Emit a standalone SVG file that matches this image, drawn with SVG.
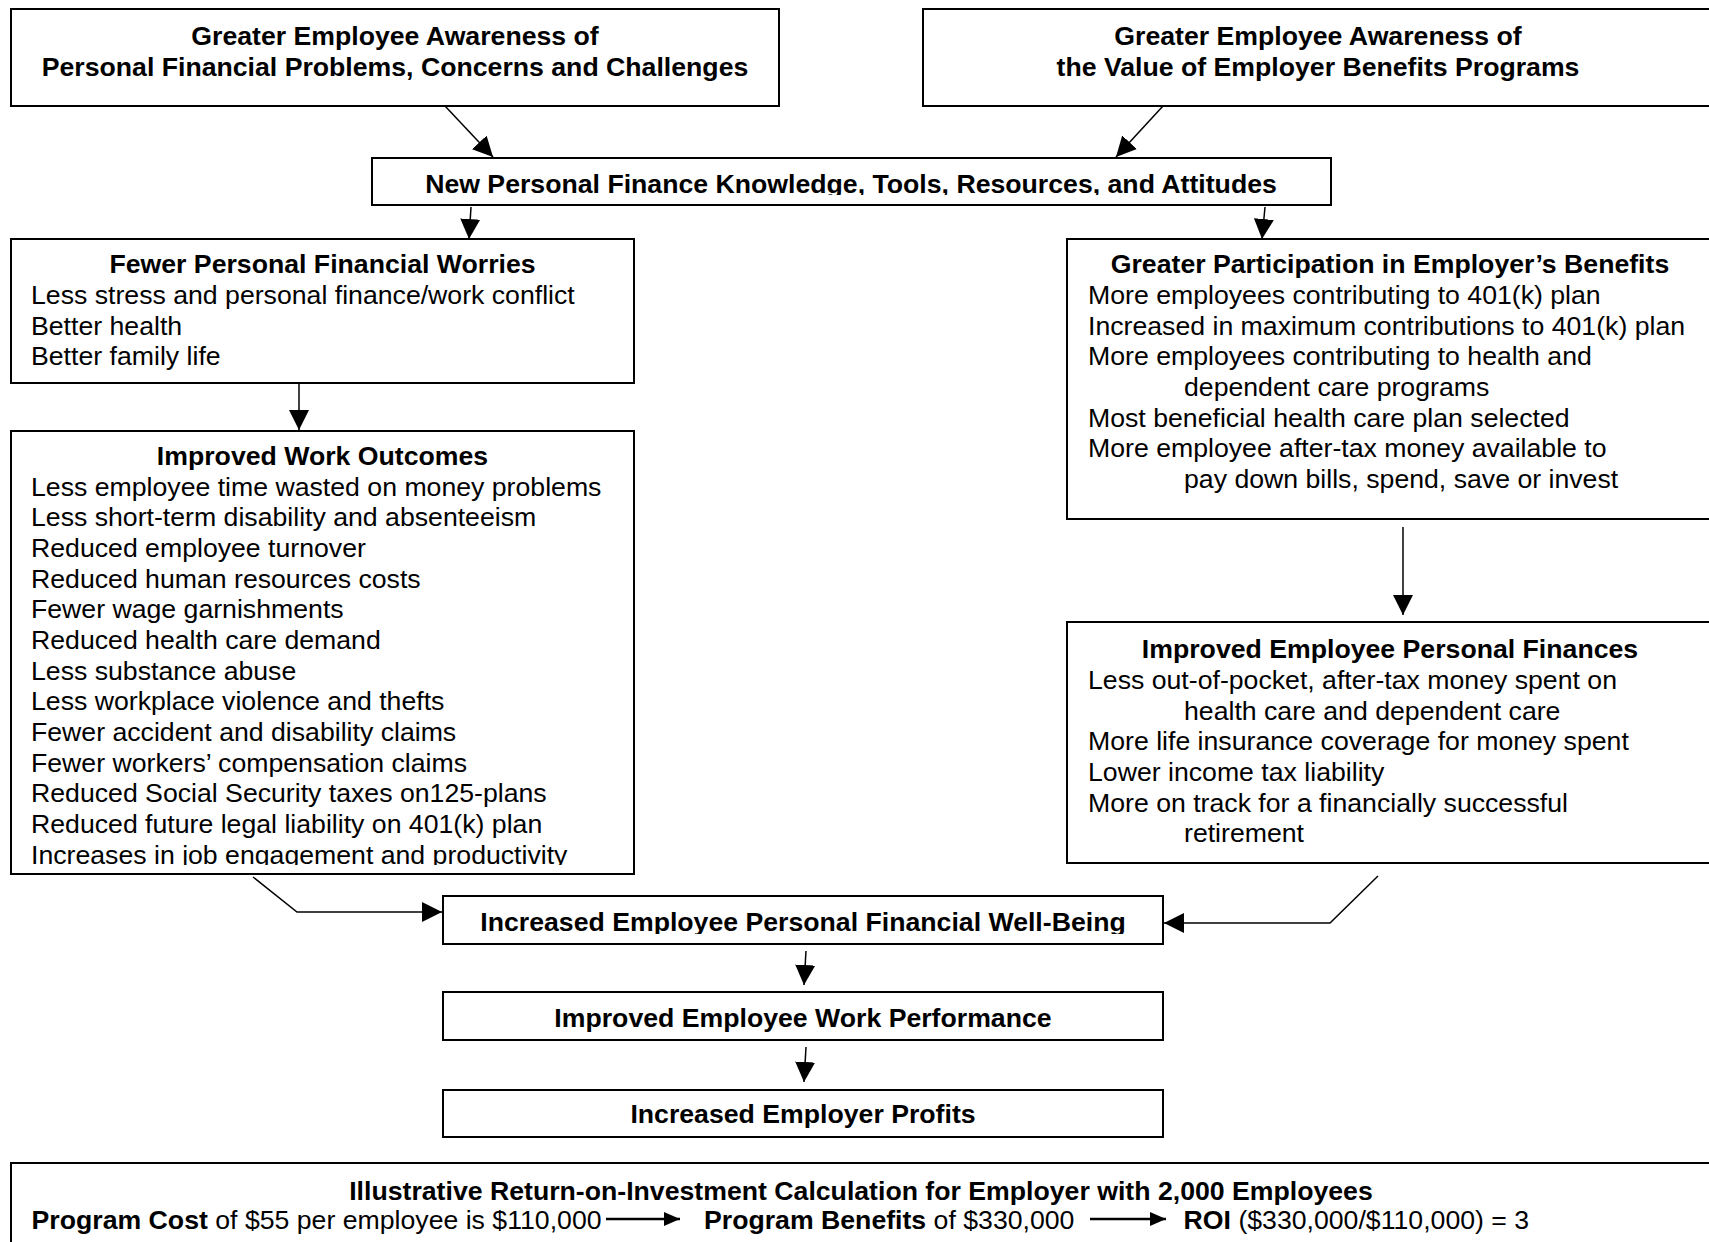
<svg xmlns="http://www.w3.org/2000/svg" width="1709" height="1242" viewBox="0 0 1709 1242">
<style>
.box{fill:#fff;stroke:#000;stroke-width:2}
text{font-family:"Liberation Sans",Arial,sans-serif;font-size:26.67px;fill:#000}
.b{font-weight:bold}
.c{text-anchor:middle}
.conn{fill:none;stroke:#000;stroke-width:1.5}
.thick{fill:none;stroke:#000;stroke-width:2.5}
</style>
<defs>
<marker id="ah" markerUnits="userSpaceOnUse" markerWidth="22" markerHeight="22" refX="20" refY="10" orient="auto">
<path d="M0,0 L20,10 L0,20 z" fill="#000"/>
</marker>
<marker id="ahi" markerUnits="userSpaceOnUse" markerWidth="18" markerHeight="16" refX="16" refY="7" orient="auto">
<path d="M0,0 L16,7 L0,14 z" fill="#000"/>
</marker>
<clipPath id="clipWork"><rect x="11" y="432" width="623" height="433"/></clipPath>
<clipPath id="clipNPF"><rect x="372" y="158" width="959" height="37"/></clipPath>
<clipPath id="clipWB"><rect x="443" y="896" width="720" height="38"/></clipPath>
</defs>

<g id="connectors">
<line class="conn" x1="445" y1="106" x2="493" y2="157" marker-end="url(#ah)"/>
<line class="conn" x1="1163" y1="106" x2="1116" y2="157" marker-end="url(#ah)"/>
<line class="conn" x1="471" y1="207" x2="469" y2="239" marker-end="url(#ah)"/>
<line class="conn" x1="1265" y1="207" x2="1262" y2="239" marker-end="url(#ah)"/>
<line class="conn" x1="299" y1="383" x2="299" y2="430" marker-end="url(#ah)"/>
<line class="conn" x1="1403" y1="527" x2="1403" y2="615" marker-end="url(#ah)"/>
<polyline class="conn" points="253,877 297,912 442,912" marker-end="url(#ah)"/>
<polyline class="conn" points="1378,876 1330,923 1164,923" marker-end="url(#ah)"/>
<line class="conn" x1="806" y1="951" x2="804" y2="985" marker-end="url(#ah)"/>
<line class="conn" x1="806" y1="1047" x2="804" y2="1082" marker-end="url(#ah)"/>
</g>

<g id="awareness-problems">
<rect class="box" x="11" y="9" width="768" height="97"/>
<text class="b c" x="395" y="44.5">Greater Employee Awareness of</text>
<text class="b c" x="395" y="76">Personal Financial Problems, Concerns and Challenges</text>
</g>

<g id="awareness-benefits">
<rect class="box" x="923" y="9" width="790" height="97"/>
<text class="b c" x="1318" y="44.5">Greater Employee Awareness of</text>
<text class="b c" x="1318" y="76">the Value of Employer Benefits Programs</text>
</g>

<g id="new-knowledge">
<rect class="box" x="372" y="158" width="959" height="47"/>
<text class="b c" x="851" y="192.5" clip-path="url(#clipNPF)">New Personal Finance Knowledge, Tools, Resources, and Attitudes</text>
</g>

<g id="fewer-worries">
<rect class="box" x="11" y="239" width="623" height="144"/>
<text class="b c" x="322.5" y="273">Fewer Personal Financial Worries</text>
<text x="31" y="304">Less stress and personal finance/work conflict</text>
<text x="31" y="334.5">Better health</text>
<text x="31" y="365">Better family life</text>
</g>

<g id="work-outcomes">
<rect class="box" x="11" y="431" width="623" height="443"/>
<text class="b c" x="322.5" y="465">Improved Work Outcomes</text>
<g clip-path="url(#clipWork)">
<text x="31" y="495.7">Less employee time wasted on money problems</text>
<text x="31" y="526.4">Less short-term disability and absenteeism</text>
<text x="31" y="557">Reduced employee turnover</text>
<text x="31" y="587.7">Reduced human resources costs</text>
<text x="31" y="618.4">Fewer wage garnishments</text>
<text x="31" y="649">Reduced health care demand</text>
<text x="31" y="679.7">Less substance abuse</text>
<text x="31" y="710.4">Less workplace violence and thefts</text>
<text x="31" y="741">Fewer accident and disability claims</text>
<text x="31" y="771.7">Fewer workers’ compensation claims</text>
<text x="31" y="802.4">Reduced Social Security taxes on125-plans</text>
<text x="31" y="833">Reduced future legal liability on 401(k) plan</text>
<text x="31" y="863.7">Increases in job engagement and productivity</text>
</g>
</g>

<g id="participation">
<rect class="box" x="1067" y="239" width="646" height="280"/>
<text class="b c" x="1390" y="273">Greater Participation in Employer’s Benefits</text>
<text x="1088" y="304">More employees contributing to 401(k) plan</text>
<text x="1088" y="334.7">Increased in maximum contributions to 401(k) plan</text>
<text x="1088" y="365.3">More employees contributing to health and</text>
<text x="1184" y="396">dependent care programs</text>
<text x="1088" y="426.7">Most beneficial health care plan selected</text>
<text x="1088" y="457.3">More employee after-tax money available to</text>
<text x="1184" y="488">pay down bills, spend, save or invest</text>
</g>

<g id="personal-finances">
<rect class="box" x="1067" y="622" width="646" height="241"/>
<text class="b c" x="1390" y="658">Improved Employee Personal Finances</text>
<text x="1088" y="689">Less out-of-pocket, after-tax money spent on</text>
<text x="1184" y="719.7">health care and dependent care</text>
<text x="1088" y="750.3">More life insurance coverage for money spent</text>
<text x="1088" y="781">Lower income tax liability</text>
<text x="1088" y="811.7">More on track for a financially successful</text>
<text x="1184" y="842.3">retirement</text>
</g>

<g id="well-being">
<rect class="box" x="443" y="896" width="720" height="48"/>
<text class="b c" x="803" y="931" clip-path="url(#clipWB)">Increased Employee Personal Financial Well-Being</text>
</g>

<g id="work-performance">
<rect class="box" x="443" y="992" width="720" height="48"/>
<text class="b c" x="803" y="1027">Improved Employee Work Performance</text>
</g>

<g id="profits">
<rect class="box" x="443" y="1090" width="720" height="47"/>
<text class="b c" x="803" y="1123">Increased Employer Profits</text>
</g>

<g id="roi">
<rect class="box" x="11" y="1163" width="1702" height="100"/>
<text class="b c" x="861" y="1199.5">Illustrative Return-on-Investment Calculation for Employer with 2,000 Employees</text>
<text x="31.6" y="1229"><tspan class="b">Program Cost</tspan> of $55 per employee is $110,000</text>
<line class="thick" x1="606" y1="1219" x2="680" y2="1219" marker-end="url(#ahi)"/>
<text x="704" y="1229"><tspan class="b">Program Benefits</tspan> of $330,000</text>
<line class="thick" x1="1090" y1="1219" x2="1166" y2="1219" marker-end="url(#ahi)"/>
<text x="1183.6" y="1229"><tspan class="b">ROI</tspan> ($330,000/$110,000) = 3</text>
</g>
</svg>
